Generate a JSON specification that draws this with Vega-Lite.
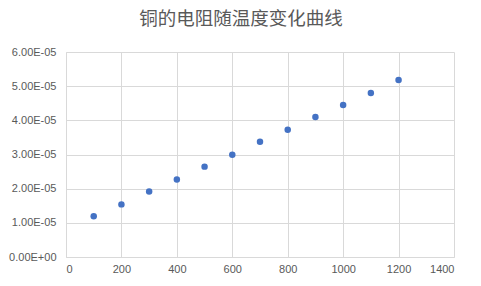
{
  "$schema": "https://vega.github.io/schema/vega-lite/v6.json",
  "autosize": {"type": "none"},
  "width": 388,
  "height": 205,
  "padding": {"left": 66, "top": 52, "right": 27, "bottom": 29},
  "background": "white",
  "title": {
    "text": "铜的电阻随温度变化曲线",
    "font": "Noto Sans CJK SC",
    "fontSize": 18.5,
    "fontWeight": "normal",
    "color": "#595959",
    "anchor": "middle",
    "dx": -19,
    "offset": 18
  },
  "data": {
    "values": [
      {"T": 100, "R": 1.19e-5},
      {"T": 200, "R": 1.54e-5},
      {"T": 300, "R": 1.915e-5},
      {"T": 400, "R": 2.265e-5},
      {"T": 500, "R": 2.645e-5},
      {"T": 600, "R": 2.995e-5},
      {"T": 700, "R": 3.375e-5},
      {"T": 800, "R": 3.725e-5},
      {"T": 900, "R": 4.1e-5},
      {"T": 1000, "R": 4.45e-5},
      {"T": 1100, "R": 4.8e-5},
      {"T": 1200, "R": 5.18e-5}
    ]
  },
  "mark": {"type": "point", "filled": true, "color": "#4472C4", "size": 42, "opacity": 1},
  "encoding": {
    "x": {
      "field": "T", "type": "quantitative",
      "scale": {"domain": [0, 1400], "nice": false},
      "axis": {"values": [0, 200, 400, 600, 800, 1000, 1200, 1400], "format": "d", "title": null, "grid": true, "labelPadding": 6}
    },
    "y": {
      "field": "R", "type": "quantitative",
      "scale": {"domain": [0, 6e-5], "nice": false},
      "axis": {
        "values": [0, 1e-5, 2e-5, 3e-5, 4e-5, 5e-5, 6e-5],
        "title": null, "grid": true, "labelPadding": 10,
        "labelExpr": "datum.value == 0 ? '0.00E+00' : format(datum.value * 100000, '.2f') + 'E-05'"
      }
    }
  },
  "config": {
    "view": {"stroke": null},
    "axis": {
      "labelFont": "Liberation Sans",
      "labelFontSize": 11,
      "labelColor": "#595959",
      "gridColor": "#d9d9d9",
      "gridWidth": 1,
      "domainColor": "#d9d9d9",
      "ticks": false
    }
  }
}
